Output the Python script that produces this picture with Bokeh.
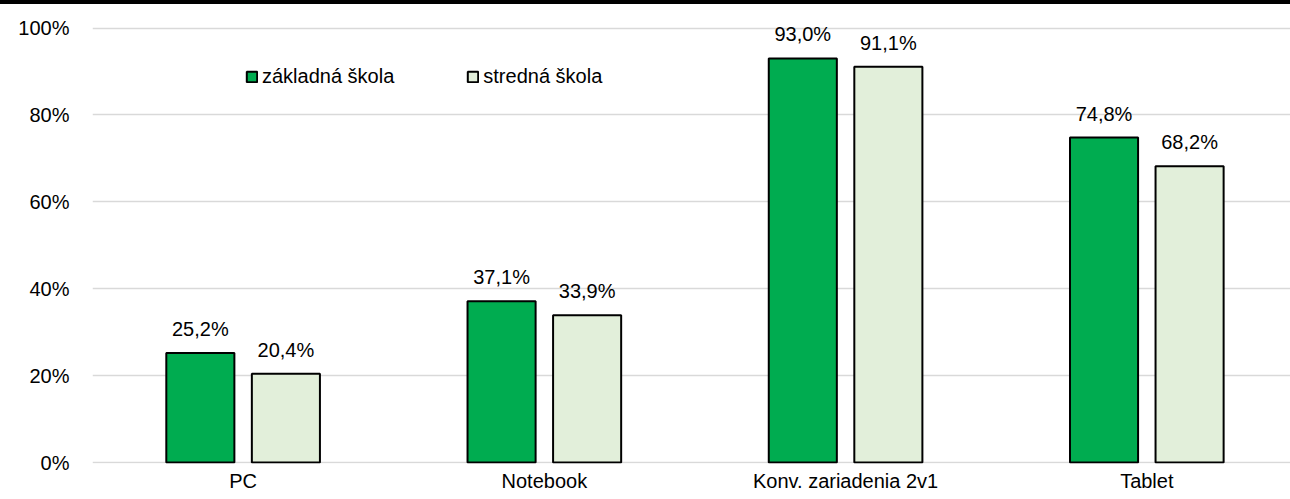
import numpy as np
from bokeh.plotting import figure
from bokeh.layouts import column
from bokeh.models import (ColumnDataSource, Range1d, FixedTicker, Legend, LegendItem, LabelSet, Div)
from bokeh.core.properties import value
from bokeh.embed import file_html
from bokeh.resources import INLINE

categories = ["PC", "Notebook", "Konv. zariadenia 2v1", "Tablet"]
zakladna = [25.2, 37.1, 93.0, 74.8]
stredna = [20.4, 33.9, 91.1, 68.2]
series_names = ["základná škola", "stredná škola"]
y_ticks = [0, 20, 40, 60, 80, 100]

FONT = "'Liberation Sans Narrow', 'Arial Narrow', 'Liberation Sans', sans-serif"
FS = "20px"
GREEN = "#00AC50"
LIGHT = "#E2EFDA"

centers = np.arange(len(categories)) + 0.5
off = 0.142
bw = 0.226

def fmt(v):
    return ("%.1f%%" % v).replace(".", ",")

src1 = ColumnDataSource(dict(x=centers - off, y=zakladna, lab=[fmt(v) for v in zakladna]))
src2 = ColumnDataSource(dict(x=centers + off, y=stredna, lab=[fmt(v) for v in stredna]))

# thin black rule at the very top of the image
rule = Div(text="", width=1290, height=4, margin=(0, 0, 0, 0),
           styles={"background-color": "black", "width": "1290px", "height": "4px"})

p = figure(width=1290, height=495, output_backend="svg", toolbar_location=None,
           x_range=Range1d(0, 3.977), y_range=Range1d(-0.23, 105.42),
           min_border_left=92, min_border_right=0, min_border_top=0, min_border_bottom=36)
p.outline_line_color = None
p.background_fill_color = "white"
p.border_fill_color = "white"

r1 = p.vbar(x="x", top="y", width=bw, source=src1, fill_color=GREEN,
            line_color="black", line_width=2)
r2 = p.vbar(x="x", top="y", width=bw, source=src2, fill_color=LIGHT,
            line_color="black", line_width=2)

for s in (src1, src2):
    p.add_layout(LabelSet(x="x", y="y", text="lab", source=s, text_align="center",
                          text_baseline="alphabetic", y_offset=17,
                          text_font=value(FONT), text_font_size=FS, text_color="black"))

p.xaxis.ticker = FixedTicker(ticks=list(centers))
p.xaxis.major_label_overrides = {float(c): n for c, n in zip(centers, categories)}
p.yaxis.ticker = FixedTicker(ticks=y_ticks)
p.yaxis.major_label_overrides = {t: f"{t}%" for t in y_ticks}
for ax in (p.xaxis, p.yaxis):
    ax.axis_line_color = None
    ax.major_tick_line_color = None
    ax.minor_tick_line_color = None
    ax.major_label_text_font = FONT
    ax.major_label_text_font_size = FS
    ax.major_label_text_color = "black"
p.xaxis.major_label_standoff = 0
p.yaxis.major_label_standoff = 17

p.xgrid.grid_line_color = None
p.ygrid.grid_line_color = "#D9D9D9"
p.ygrid.grid_line_width = 1.5

legend = Legend(items=[LegendItem(label=series_names[0], renderers=[r1]),
                       LegendItem(label=series_names[1], renderers=[r2])],
                orientation="horizontal", location=(153, 375),
                glyph_width=13, glyph_height=13, label_standoff=4, spacing=72,
                padding=0, margin=0, border_line_color=None, background_fill_alpha=0,
                label_text_font=FONT, label_text_font_size=FS, label_text_color="black")
p.add_layout(legend, "center")

layout = column(rule, p, spacing=0)
open("out.html", "w").write(file_html(layout, INLINE))
